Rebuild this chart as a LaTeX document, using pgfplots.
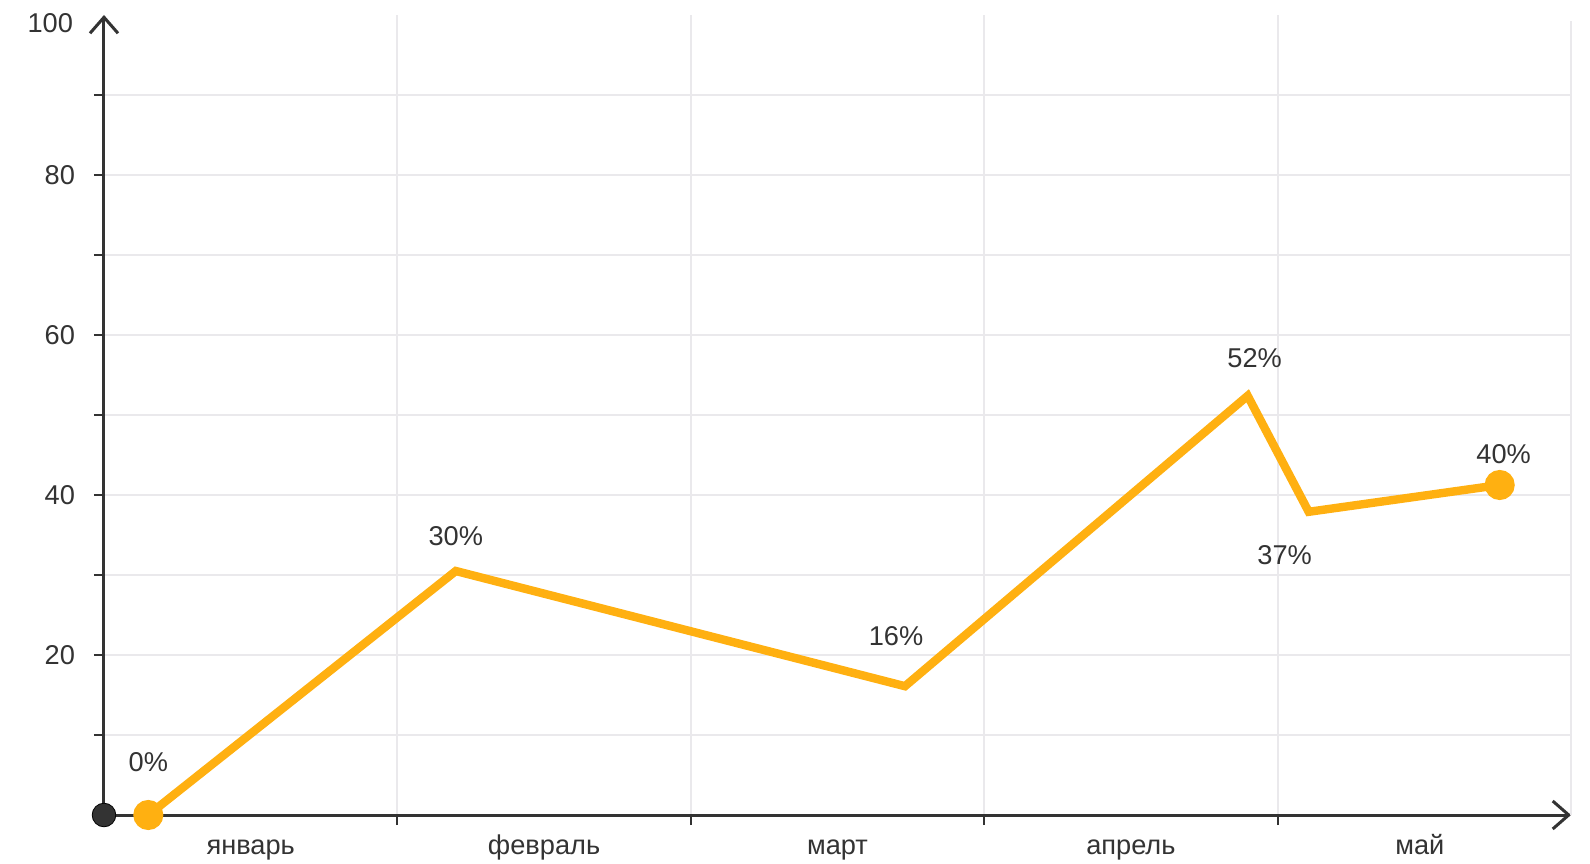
\documentclass[border=0pt]{standalone}
\usepackage{pgfplots}
\pgfplotsset{compat=1.18}
\usepackage{fontspec}
\setmainfont{Liberation Sans}
\usetikzlibrary{arrows.meta}
\definecolor{lineorange}{RGB}{255,176,17}
\definecolor{axisdark}{RGB}{51,51,51}
\definecolor{gridgray}{RGB}{234,233,236}
\definecolor{textgray}{RGB}{51,51,51}
\begin{document}
\begin{tikzpicture}
\path[use as bounding box] (-52pt,-24pt) rectangle (743pt,407.5pt);
\begin{axis}[
  at={(0,0)}, anchor=south west,
  scale only axis,
  width=733.5pt, height=400pt,
  xmin=0, xmax=5, ymin=0, ymax=100,
  axis lines=left,
  axis line style={draw=axisdark, line width=1.5pt, -{Straight Barb[length=8pt,width=14pt,line width=1.5pt]}},
  clip=false,
  xtick={1,2,3,4},
  xticklabels={},
  extra x ticks={0.5,1.5,2.5,3.5,4.485},
  extra x tick labels={январь,февраль,март,апрель,май},
  extra x tick style={major tick length=0pt, grid=none, xticklabel style={anchor=base, yshift=-19.5pt}},
  ytick={20,40,60,80},
  minor ytick={10,30,50,70,90},
  extra y ticks={100},
  extra y tick style={major tick length=0pt, grid=none, yticklabel style={xshift=-6pt, yshift=-4pt}},
  grid=both,
  major grid style={draw=gridgray, line width=1pt},
  minor grid style={draw=gridgray, line width=1pt},
  tick align=outside,
  major tick length=5pt, minor tick length=5pt,
  tick style={draw=axisdark, line width=1pt},
  xtick pos=bottom, ytick pos=left,
  every tick label/.append style={font=\fontsize{13.6}{16}\selectfont, text=textgray},
  yticklabel style={xshift=-6pt},
  /pgf/number format/assume math mode=true,
]
\draw[gridgray, line width=1pt] (axis cs:5,0) -- (axis cs:5,99.3);
\addplot[color=lineorange, line width=4.2pt, line join=miter, mark=*, mark indices={1,6}, mark size=5.4pt, mark options={fill=lineorange, draw=none}]
  coordinates {(0.151,0) (1.199,30.5) (2.73,16.1) (3.898,52.4) (4.106,37.9) (4.757,41.25)};
\addplot[only marks, mark=*, mark size=5.9pt, mark options={fill=axisdark, draw=none}] coordinates {(0,0)};
\begin{scope}[every node/.style={font=\fontsize{13.6}{16}\selectfont, text=textgray, inner sep=0pt}]
\node at (axis cs:0.151,0) [yshift=26.5pt] {0\%};
\node at (axis cs:1.199,30.5) [yshift=17.5pt] {30\%};
\node at (axis cs:2.73,16.1) [xshift=-4.5pt, yshift=25pt] {16\%};
\node at (axis cs:3.898,52.4) [xshift=3.5pt, yshift=19pt] {52\%};
\node at (axis cs:4.106,37.9) [xshift=-12pt, yshift=-21.5pt] {37\%};
\node at (axis cs:4.757,41.25) [xshift=2pt, yshift=15.5pt] {40\%};
\end{scope}
\end{axis}
\end{tikzpicture}
\end{document}
